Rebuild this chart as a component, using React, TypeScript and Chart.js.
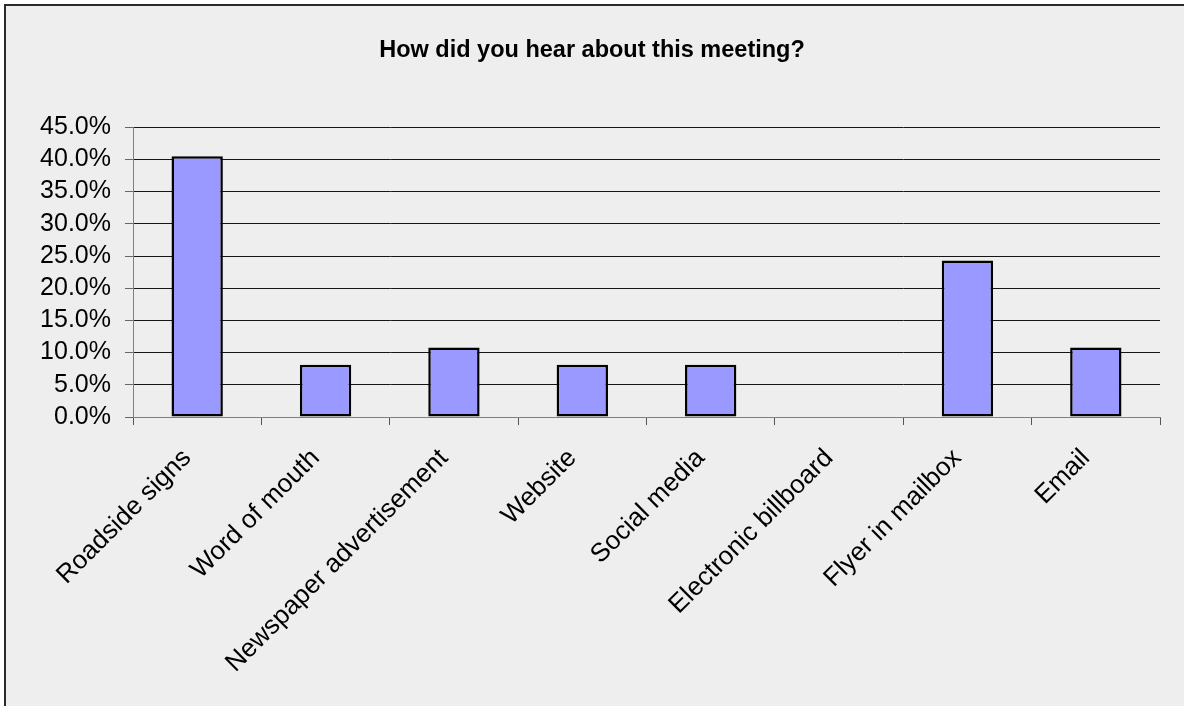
import React, { useEffect, useRef } from "react";
import { Chart, registerables } from "chart.js";

Chart.register(...registerables);

const titleText = "How did you hear about this meeting?";
const categories = [
  "Roadside signs",
  "Word of mouth",
  "Newspaper advertisement",
  "Website",
  "Social media",
  "Electronic billboard",
  "Flyer in mailbox",
  "Email",
];
const shares = [0.405, 0.081, 0.108, 0.081, 0.081, 0, 0.243, 0.108];
const yMin = 0;
const yMax = 0.45;
const yStep = 0.05;

const FONT = "'Liberation Sans', Arial, sans-serif";

const backgroundPlugin = {
  id: "bgFrame",
  beforeDraw(chart: any) {
    const { ctx, width, height } = chart;
    ctx.save();
    ctx.fillStyle = "#ffffff";
    ctx.fillRect(0, 0, width, height);
    ctx.fillStyle = "#eeeeee";
    ctx.fillRect(4, 4, width - 4, height - 4);
    ctx.fillStyle = "#2a2a2a";
    ctx.fillRect(4, 4, 2, height - 4);
    ctx.fillRect(4, 4, width - 4, 2);
    ctx.restore();
  },
};

export default function App() {
  const ref = useRef<HTMLCanvasElement | null>(null);

  useEffect(() => {
    if (!ref.current) return;
    const chart = new Chart(ref.current, {
      type: "bar",
      data: {
        labels: categories,
        datasets: [
          {
            data: shares,
            backgroundColor: "#9999ff",
            borderColor: "#000000",
            borderWidth: 2.5,
            borderSkipped: false,
            barPercentage: 0.5,
            categoryPercentage: 0.8,
          },
        ],
      },
      options: {
        responsive: false,
        animation: false,
        layout: { padding: { left: 24, right: 24, top: 0, bottom: 0 } },
        plugins: {
          legend: { display: false },
          tooltip: { enabled: false },
          title: {
            display: true,
            text: titleText,
            color: "#000000",
            font: { family: FONT, size: 23.5, weight: "bold" },
            padding: { top: 36, bottom: 63 },
          },
        },
        scales: {
          x: {
            afterFit(scale: any) {
              scale.height = 706 - 417;
            },
            grid: {
              display: true,
              drawOnChartArea: false,
              drawTicks: true,
              tickLength: 8,
              offset: true,
              color: "#555555",
            },
            border: { display: true, color: "#808080", width: 1 },
            ticks: {
              autoSkip: false,
              minRotation: 45,
              maxRotation: 45,
              padding: 18,
              labelOffset: -10,
              color: "#000000",
              font: { family: FONT, size: 26 },
            },
          },
          y: {
            min: yMin,
            max: yMax,
            afterFit(scale: any) {
              scale.width = 133 - 24;
            },
            grid: {
              color: "#151515",
              lineWidth: 1,
              tickLength: 8,
              tickColor: "#666666",
            },
            border: { display: true, color: "#808080", width: 1 },
            ticks: {
              autoSkip: false,
              stepSize: yStep,
              padding: 14,
              color: "#000000",
              font: { family: FONT, size: 25 },
              callback: (v: any) => (Number(v) * 100).toFixed(1) + "%",
            },
          },
        },
      },
      plugins: [backgroundPlugin],
    });
    return () => chart.destroy();
  }, []);

  return (
    <div style={{ position: "absolute", left: 0, top: 0, width: 1184, height: 706 }}>
      <canvas ref={ref} width={1184} height={706} />
    </div>
  );
}
